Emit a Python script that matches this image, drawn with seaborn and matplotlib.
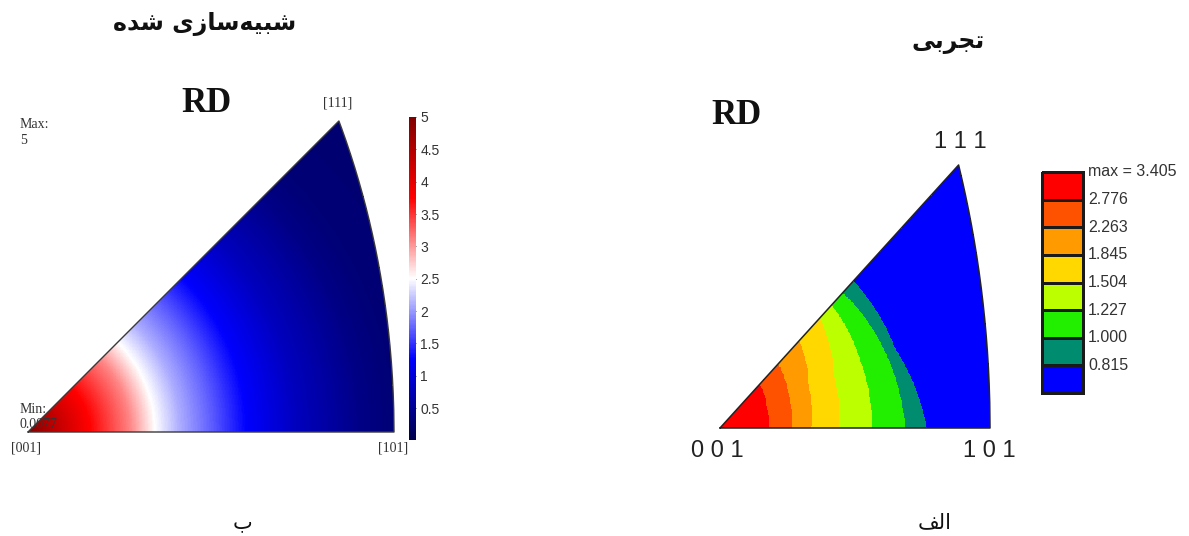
import numpy as np
import matplotlib
matplotlib.use("Agg")
import matplotlib.pyplot as plt
import seaborn as sns
from matplotlib.colors import ListedColormap

# ---------------- data ----------------
title_sim = "شبیه‌سازی شده"
title_exp = "تجربی"
label_sim = "ب"
label_exp = "الف"
panel_dir = "RD"
sim_corner_labels = ["[001]", "[101]", "[111]"]
exp_corner_labels = ["0 0 1", "1 0 1", "1 1 1"]
sim_max_text = "Max:\n5"
sim_min_text = "Min:\n0.0077"

# simulated IPF: intensity vs. distance from [001] (fraction of the [001]-[101] edge)
sim_dist = [0.0, 0.06, 0.169, 0.279, 0.347, 0.415, 0.505, 0.598, 0.735, 0.915, 1.0, 1.25]
sim_val = [5.0, 4.5, 3.75, 3.1, 2.5, 2.1, 1.7, 1.25, 0.8, 0.4, 0.3, 0.25]
sim_min, sim_max = 0.0077, 5.0
sim_ticks = [0.5, 1, 1.5, 2, 2.5, 3, 3.5, 4, 4.5, 5]
sim_tick_labels = ["0.5", "1", "1.5", "2", "2.5", "3", "3.5", "4", "4.5", "5"]

# experimental IPF: contour levels (top -> bottom of legend) and colours
exp_levels = [3.405, 2.776, 2.263, 1.845, 1.504, 1.227, 1.000, 0.815]
exp_level_labels = ["max = 3.405", "2.776", "2.263", "1.845", "1.504", "1.227", "1.000", "0.815"]
exp_colors = ["#ff0000", "#ff5200", "#ff9a00", "#ffd800", "#bcff00", "#22ee00", "#008c6e", "#0000ff"]
# polar angle from [001] (deg) of each level boundary, at azimuths 0, 22.5, 45 deg
exp_azimuth = [0.0, 22.5, 45.0]
exp_edge_2776 = [8.5, 8.9, 9.9]
exp_edge_2263 = [12.6, 13.1, 14.4]
exp_edge_1845 = [16.0, 16.8, 19.5]
exp_edge_1504 = [20.6, 21.4, 24.5]
exp_edge_1227 = [26.2, 26.4, 27.2]
exp_edge_1000 = [31.7, 30.7, 29.8]
exp_edge_0815 = [35.2, 32.4, 32.3]
exp_edges = [exp_edge_2776, exp_edge_2263, exp_edge_1845, exp_edge_1504,
             exp_edge_1227, exp_edge_1000, exp_edge_0815]

# ---------------- Persian shaping (matplotlib has no bidi/shaping) ----------------
_FORMS = {
    "ا": (0xFE8D, 0xFE8E, None, None), "ب": (0xFE8F, 0xFE90, 0xFE91, 0xFE92),
    "ت": (0xFE95, 0xFE96, 0xFE97, 0xFE98), "ج": (0xFE9D, 0xFE9E, 0xFE9F, 0xFEA0),
    "د": (0xFEA9, 0xFEAA, None, None), "ر": (0xFEAD, 0xFEAE, None, None),
    "ز": (0xFEAF, 0xFEB0, None, None), "س": (0xFEB1, 0xFEB2, 0xFEB3, 0xFEB4),
    "ش": (0xFEB5, 0xFEB6, 0xFEB7, 0xFEB8), "ف": (0xFED1, 0xFED2, 0xFED3, 0xFED4),
    "ل": (0xFEDD, 0xFEDE, 0xFEDF, 0xFEE0), "ه": (0xFEE9, 0xFEEA, 0xFEEB, 0xFEEC),
    "ی": (0xFBFC, 0xFBFD, 0xFBFE, 0xFBFF),
}


def shape_fa(s):
    out = []
    for i, ch in enumerate(s):
        if ch not in _FORMS:
            if ch != "\u200c":
                out.append(ch)
            continue
        prev = s[i - 1] if i > 0 else None
        nxt = s[i + 1] if i + 1 < len(s) else None
        jp = prev in _FORMS and _FORMS[prev][2] is not None
        jn = _FORMS[ch][2] is not None and nxt in _FORMS
        iso, fin, ini, med = _FORMS[ch]
        code = med if (jp and jn) else fin if jp else ini if jn else iso
        out.append(chr(code))
    return "".join(reversed(out))


# ---------------- geometry helpers ----------------
T111 = np.arccos(1 / np.sqrt(3))


def radius(theta, proj):
    return 2 * np.sin(theta / 2) if proj == "ea" else np.tan(theta / 2)


def polar_angle(r, proj):
    return 2 * np.arcsin(np.clip(r / 2, 0, 1)) if proj == "ea" else 2 * np.arctan(r)


def extents(proj):
    return radius(np.pi / 4, proj), radius(T111, proj) * np.sin(np.pi / 4)


def grid(proj, nx, ny):
    xmax, ymax = extents(proj)
    xs = (np.arange(nx) + 0.5) * xmax / nx
    ys = ymax - (np.arange(ny) + 0.5) * ymax / ny  # rows top -> bottom
    X, Y = np.meshgrid(xs, ys)
    r = np.hypot(X, Y)
    th = polar_angle(r, proj)
    ph = np.arctan2(Y, X)
    inside = (ph <= np.pi / 4 + 1e-9) & (np.sin(th) * np.cos(ph) <= np.cos(th) + 1e-9)
    return r, th, ph, inside


def outline(proj, n=200):
    a = np.linspace(1 / np.sqrt(2), 1 / np.sqrt(3), n)
    b = np.sqrt(np.clip(1 - 2 * a ** 2, 0, None))
    th = np.arccos(a)
    ph = np.arctan2(b, a)
    r = radius(th, proj)
    return (np.concatenate([[0], r * np.cos(ph), [0]]),
            np.concatenate([[0], r * np.sin(ph), [0]]))


# ---------------- figure ----------------
W, H = 1189, 536
sns.set_theme(style="white")
plt.rcParams["font.family"] = ["DejaVu Sans"]
fig = plt.figure(figsize=(W / 100, H / 100), dpi=100, facecolor="white")


def rect(x0, y0, x1, y1):
    return [x0 / W, 1 - y1 / H, (x1 - x0) / W, (y1 - y0) / H]


def ftext(x, y, s, **kw):
    fig.text(x / W, 1 - y / H, s, **kw)


SERIF = ["Liberation Serif", "DejaVu Serif"]
SANS = ["Liberation Sans", "DejaVu Sans"]

# ---- left: simulated ----
r, th, ph, ins = grid("ea", 480, 408)
r101 = radius(np.pi / 4, "ea")
val = np.interp(r / r101, sim_dist, sim_val)
ax_l = fig.add_axes(rect(28, 121, 394, 432))
cax_l = fig.add_axes(rect(409, 117, 416, 440))
sns.heatmap(val, mask=~ins, cmap="seismic", vmin=sim_min, vmax=sim_max, ax=ax_l,
            cbar_ax=cax_l, xticklabels=False, yticklabels=False, rasterized=True,
            cbar_kws={"ticks": sim_ticks})
cb = ax_l.collections[0].colorbar
cb.set_ticklabels(sim_tick_labels)
cb.outline.set_visible(False)
cax_l.tick_params(labelsize=10, colors="#333333", length=2, width=0.6, direction="in", pad=3)
for t in cax_l.get_yticklabels():
    t.set_fontfamily(SANS)
ov = fig.add_axes(rect(28, 121, 394, 432))
ov.patch.set_alpha(0)
ov.axis("off")
xm, ym = extents("ea")
ov.set_xlim(0, xm)
ov.set_ylim(0, ym)
ox, oy = outline("ea")
ov.plot(ox, oy, color="#3a3a3a", lw=1.0, clip_on=False)

ftext(207, 103, panel_dir, fontsize=25, fontweight="bold", family=SERIF, ha="center", va="center", color="#111111")
ftext(26, 448, sim_corner_labels[0], fontsize=10, family=SERIF, ha="center", va="center", color="#333333")
ftext(393, 448, sim_corner_labels[1], fontsize=10, family=SERIF, ha="center", va="center", color="#333333")
ftext(338, 103, sim_corner_labels[2], fontsize=10, family=SERIF, ha="center", va="center", color="#333333")
ftext(20, 118, sim_max_text, fontsize=10, family=SERIF, ha="left", va="top", color="#333333", linespacing=1.25)
ftext(20, 403, sim_min_text, fontsize=10, family=SERIF, ha="left", va="top", color="#333333", linespacing=1.25)

# ---- right: experimental ----
r, th, ph, ins = grid("st", 360, 352)
phd = np.degrees(ph)
thd = np.degrees(th)
band = np.zeros_like(thd)
for edge in exp_edges:
    band += thd > np.interp(phd, exp_azimuth, edge)
cmap_exp = ListedColormap(exp_colors)
ax_r = fig.add_axes(rect(720, 165, 990, 428))
sns.heatmap(band, mask=~ins, cmap=cmap_exp, vmin=-0.5, vmax=len(exp_colors) - 0.5, cbar=False,
            ax=ax_r, xticklabels=False, yticklabels=False, rasterized=True)
ov2 = fig.add_axes(rect(720, 165, 990, 428))
ov2.patch.set_alpha(0)
ov2.axis("off")
xm, ym = extents("st")
ov2.set_xlim(0, xm)
ov2.set_ylim(0, ym)
ox, oy = outline("st")
ov2.plot(ox, oy, color="#222222", lw=1.1, clip_on=False)

cax_r = fig.add_axes(rect(1042, 172, 1083, 393))
sns.heatmap(np.arange(len(exp_colors)).reshape(-1, 1), cmap=cmap_exp, vmin=-0.5,
            vmax=len(exp_colors) - 0.5, cbar=False, linewidths=1.8, linecolor="#1a1a1a",
            ax=cax_r, xticklabels=False, yticklabels=False)
cax_r.collections[0].set_clip_on(False)
step = (393 - 172) / len(exp_colors)
for k, lab in enumerate(exp_level_labels):
    ftext(1088, 172 + k * step, lab, fontsize=11.5, family=SANS, ha="left", va="center", color="#333333")

ftext(737, 116, panel_dir, fontsize=25, fontweight="bold", family=SERIF, ha="center", va="center", color="#111111")
ftext(717, 451, exp_corner_labels[0], fontsize=17, family=SANS, ha="center", va="center", color="#222222")
ftext(989, 451, exp_corner_labels[1], fontsize=17, family=SANS, ha="center", va="center", color="#222222")
ftext(960, 142, exp_corner_labels[2], fontsize=17, family=SANS, ha="center", va="center", color="#222222")

# ---- Persian titles and panel letters ----
ftext(205, 24, shape_fa(title_sim), fontsize=17, fontweight="bold", family=["DejaVu Sans"], ha="center", va="center", color="#111111")
ftext(948, 42, shape_fa(title_exp), fontsize=17, fontweight="bold", family=["DejaVu Sans"], ha="center", va="center", color="#111111")
ftext(242, 522, shape_fa(label_sim), fontsize=15, family=["DejaVu Sans"], ha="center", va="center", color="#111111")
ftext(935, 522, shape_fa(label_exp), fontsize=15, family=["DejaVu Sans"], ha="center", va="center", color="#111111")

fig.savefig("out.png", dpi=100, facecolor="white")
